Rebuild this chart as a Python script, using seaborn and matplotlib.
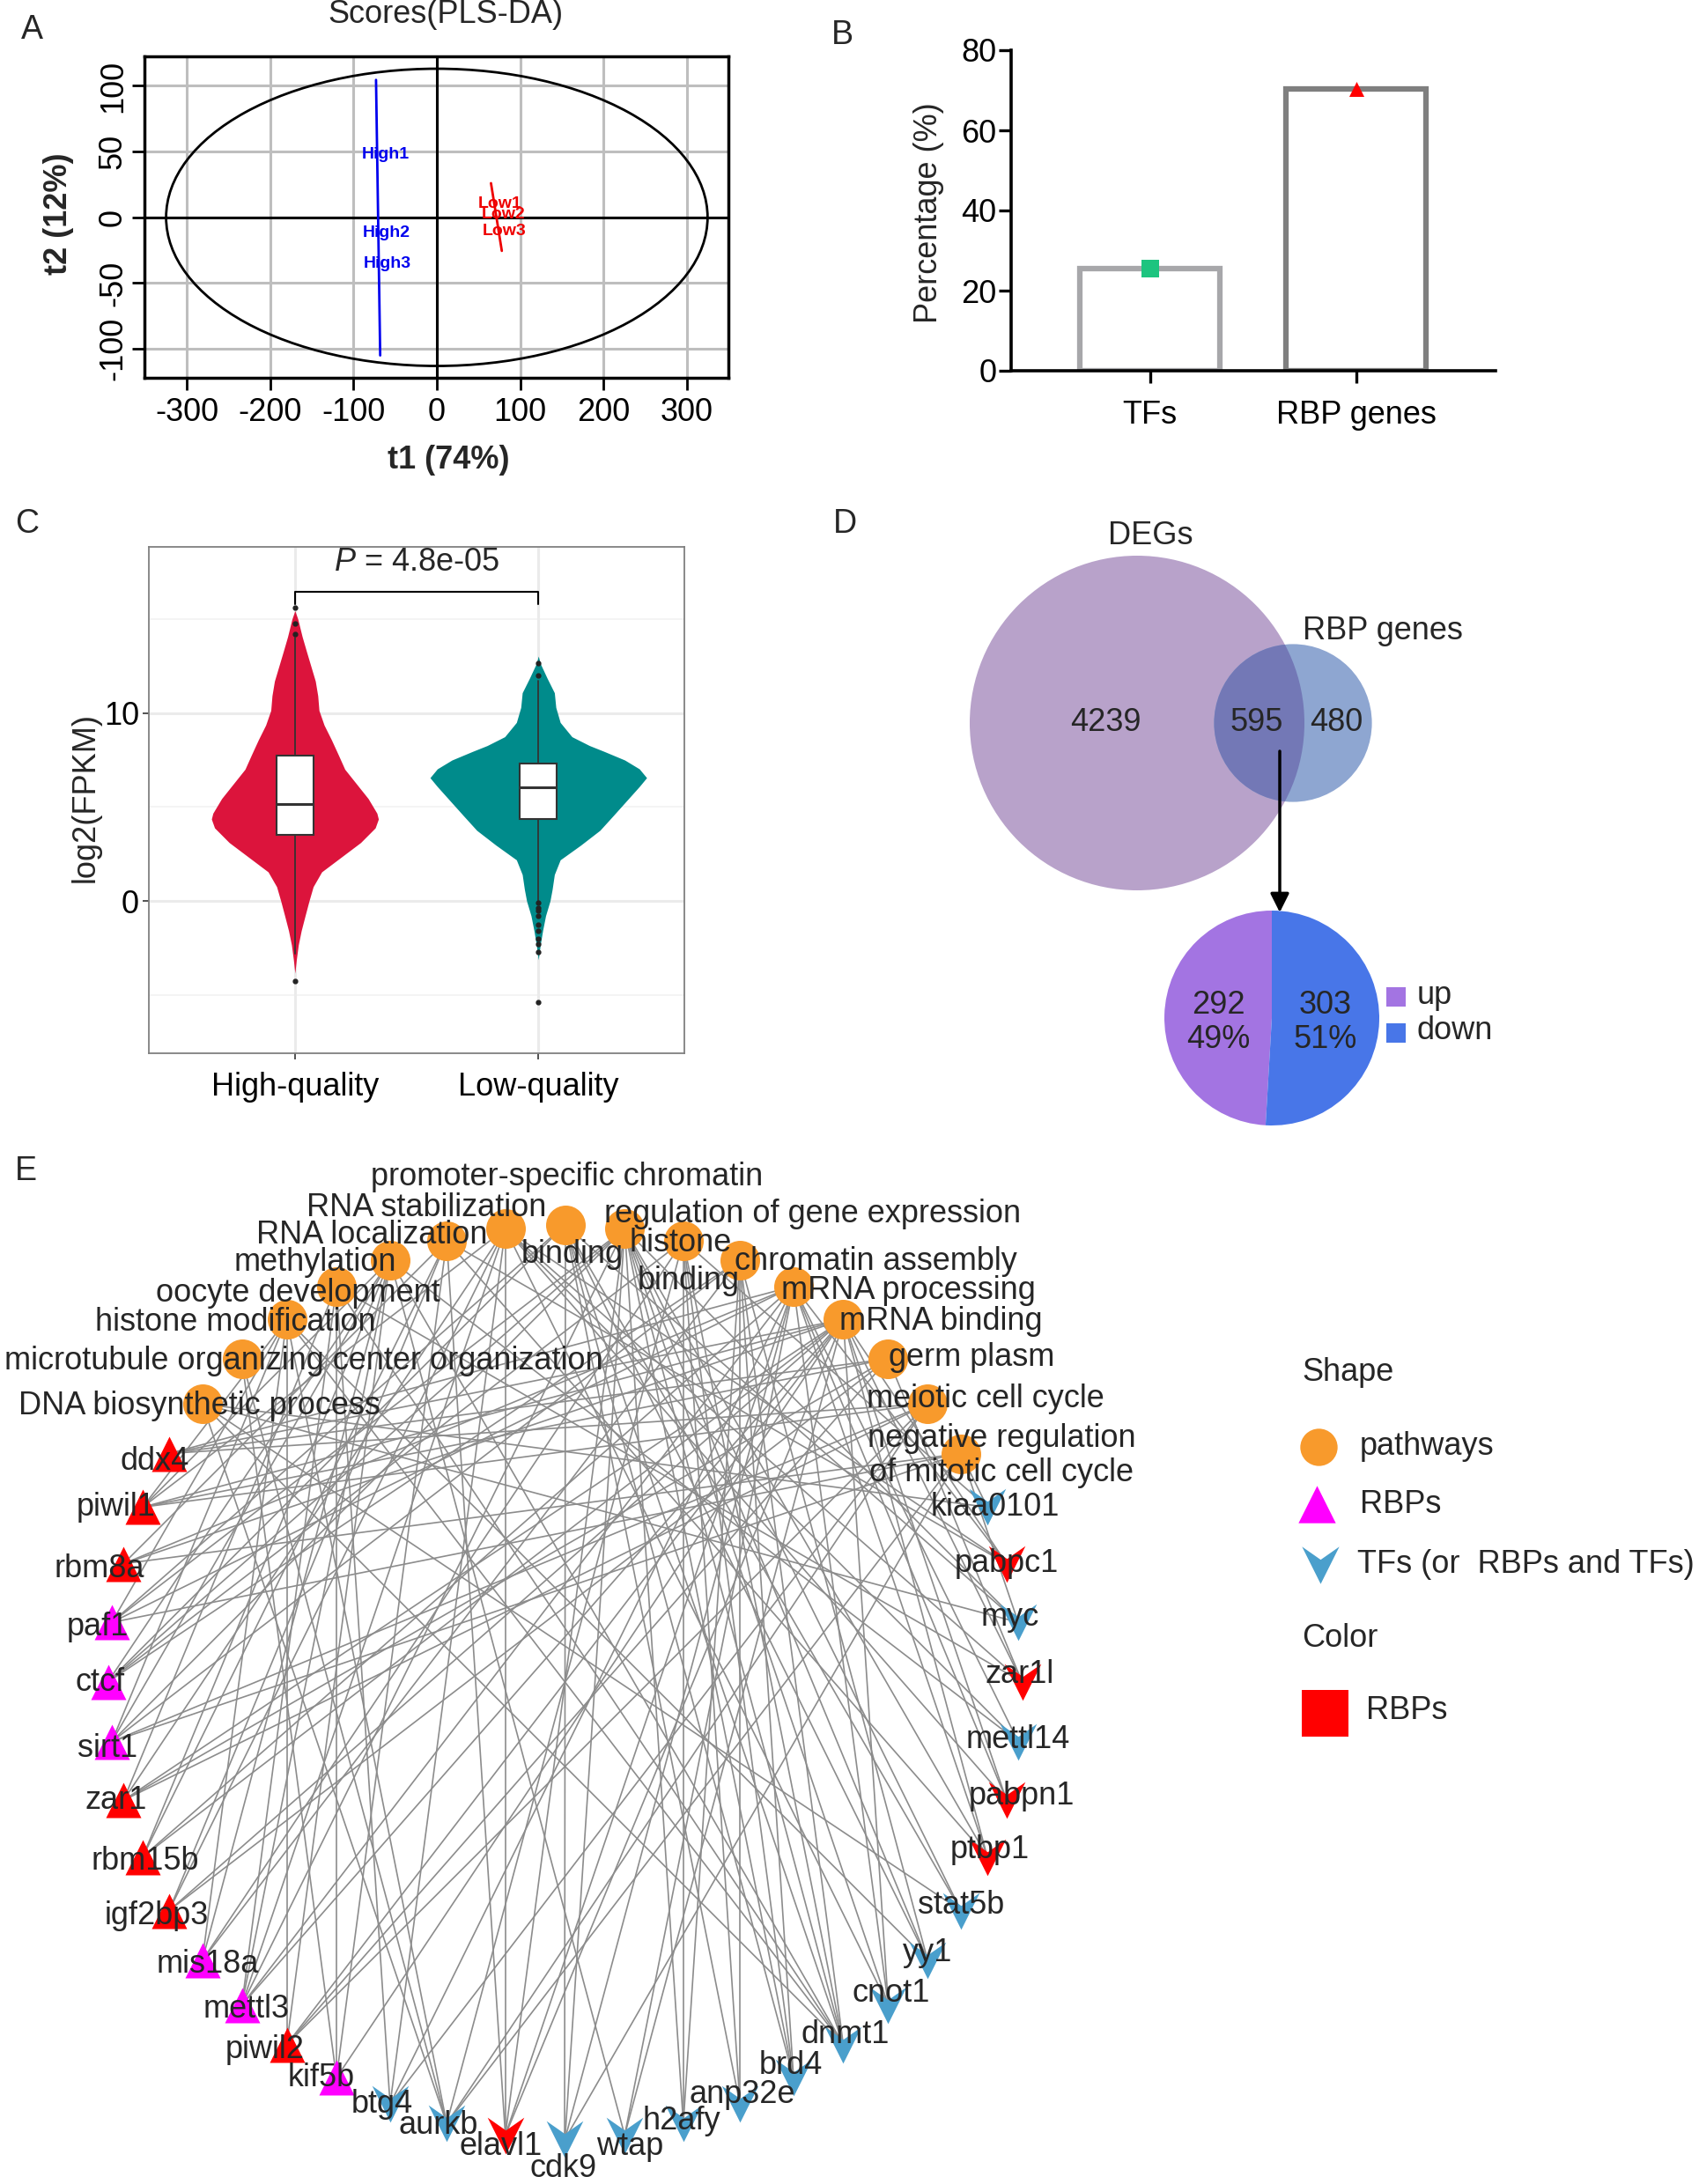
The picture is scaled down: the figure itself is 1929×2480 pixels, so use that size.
import numpy as np
import pandas as pd
import matplotlib
matplotlib.use("Agg")
import matplotlib.pyplot as plt
from matplotlib.patches import Ellipse, Circle, Rectangle
from matplotlib.path import Path
from matplotlib.collections import LineCollection
import seaborn as sns

# ======================= DATA =======================
# --- A: PLS-DA scores ---
pls_samples = ["High1", "High2", "High3", "Low1", "Low2", "Low3"]
pls_t1 = [-62, -60, -59, 76, 80, 81]
pls_t2 = [47.5, -12, -35, 10, 2, -10.5]
pls_group = ["High", "High", "High", "Low", "Low", "Low"]
class_axis_t1 = {"High": [-73, -68], "Low": [65, 78]}
class_axis_t2 = {"High": [104.5, -105], "Low": [26, -25.5]}
hotelling_t1 = 325
hotelling_t2 = 113
a_xticks = [-300, -200, -100, 0, 100, 200, 300]
a_yticks = [-100, -50, 0, 50, 100]

# --- B: percentage ---
b_categories = ["TFs", "RBP genes"]
b_percent = [25.6, 70.4]
b_yticks = [0, 20, 40, 60, 80]

# --- C: violin outline (half widths) + box stats ---
c_groups = ["High-quality", "Low-quality"]
high_y = [15.45, 15.0, 14.06, 13.26, 12.48, 11.7, 10.92, 10.14, 9.36, 8.58, 7.79, 7.01, 6.23,
          5.45, 4.67, 4.36, 3.89, 3.11, 2.33, 1.55, 0.76, 0.0, -0.78, -1.58, -2.34, -3.12, -3.84]
high_w = [0.0, 0.012, 0.030, 0.048, 0.066, 0.084, 0.094, 0.099, 0.120, 0.150, 0.178, 0.205, 0.253,
          0.301, 0.337, 0.343, 0.33, 0.27, 0.19, 0.11, 0.075, 0.058, 0.042, 0.026, 0.014, 0.006, 0.0]
low_y = [13.03, 12.64, 11.86, 11.08, 10.3, 9.5, 8.74, 8.27, 7.96, 7.5, 7.03, 6.56, 6.09, 5.31,
         4.53, 3.76, 2.97, 2.19, 1.41, 0.62, 0.0, -0.78, -1.56, -2.34, -3.12]
low_w = [0.0, 0.008, 0.036, 0.066, 0.072, 0.090, 0.138, 0.21, 0.27, 0.355, 0.415, 0.445, 0.415, 0.361,
         0.307, 0.253, 0.174, 0.090, 0.066, 0.057, 0.048, 0.030, 0.018, 0.008, 0.0]
box_med = [5.15, 6.07]
box_q1 = [3.5, 4.37]
box_q3 = [7.74, 7.32]
box_whislo = [-2.8, 0.0]
box_whishi = [14.0, 11.7]
high_fliers = [15.6, 14.75, 14.2, -4.25]
low_fliers = [12.66, 12.0, -0.1, -0.35, -0.5, -0.8, -1.25, -1.57, -2.0, -2.3, -2.7, -5.4]
c_pvalue = "4.8e-05"
c_yticks = [0, 10]

# --- D: Venn + pie ---
venn_sets = ["DEGs", "RBP genes"]
venn_only_deg = 4239
venn_both = 595
venn_only_rbp = 480
pie_labels = ["up", "down"]
pie_counts = [292, 303]

# --- E: network ---
pathways = [
    "DNA biosynthetic process",
    "microtubule organizing center organization",
    "histone modification",
    "oocyte development",
    "methylation",
    "RNA localization",
    "RNA stabilization",
    "promoter-specific chromatin binding",
    "regulation of gene expression",
    "histone binding",
    "chromatin assembly",
    "mRNA processing",
    "mRNA binding",
    "germ plasm",
    "meiotic cell cycle",
    "negative regulation of mitotic cell cycle",
]
rbp_genes = ["ddx4", "piwil1", "rbm8a", "paf1", "ctcf", "sirt1", "zar1", "rbm15b",
             "igf2bp3", "mis18a", "mettl3", "piwil2", "kif5b"]
tf_genes = ["btg4", "aurkb", "elavl1", "cdk9", "wtap", "h2afy", "anp32e", "brd4", "dnmt1",
            "cnot1", "yy1", "stat5b", "ptbp1", "pabpn1", "mettl14", "zar1l", "myc", "pabpc1", "kiaa0101"]
red_genes = ["ddx4", "piwil1", "rbm8a", "zar1", "rbm15b", "igf2bp3", "piwil2",
             "elavl1", "ptbp1", "pabpn1", "zar1l", "pabpc1"]
gene_links = {
    "ddx4": ["germ plasm", "meiotic cell cycle", "mRNA binding", "mRNA processing"],
    "piwil1": ["germ plasm", "meiotic cell cycle", "mRNA binding", "methylation", "RNA stabilization", "histone modification"],
    "rbm8a": ["mRNA processing", "mRNA binding", "RNA localization", "negative regulation of mitotic cell cycle"],
    "paf1": ["mRNA processing", "regulation of gene expression", "histone modification", "promoter-specific chromatin binding", "negative regulation of mitotic cell cycle"],
    "ctcf": ["promoter-specific chromatin binding", "regulation of gene expression", "chromatin assembly", "histone binding", "methylation"],
    "sirt1": ["histone modification", "regulation of gene expression", "chromatin assembly", "negative regulation of mitotic cell cycle", "methylation", "meiotic cell cycle"],
    "zar1": ["mRNA binding", "oocyte development", "germ plasm", "meiotic cell cycle", "RNA stabilization"],
    "rbm15b": ["mRNA processing", "methylation", "mRNA binding", "RNA localization"],
    "igf2bp3": ["mRNA binding", "RNA stabilization", "RNA localization", "germ plasm"],
    "mis18a": ["chromatin assembly", "histone binding", "methylation", "histone modification"],
    "mettl3": ["methylation", "mRNA processing", "mRNA binding", "RNA stabilization", "oocyte development", "regulation of gene expression"],
    "piwil2": ["histone modification", "germ plasm", "meiotic cell cycle", "mRNA binding", "methylation"],
    "kif5b": ["oocyte development", "RNA localization", "microtubule organizing center organization", "mRNA binding"],
    "btg4": ["oocyte development", "meiotic cell cycle", "mRNA processing", "RNA stabilization"],
    "aurkb": ["DNA biosynthetic process", "microtubule organizing center organization", "histone modification", "meiotic cell cycle", "negative regulation of mitotic cell cycle", "histone binding"],
    "elavl1": ["RNA stabilization", "mRNA binding", "mRNA processing", "regulation of gene expression", "RNA localization"],
    "cdk9": ["promoter-specific chromatin binding", "regulation of gene expression", "mRNA processing", "negative regulation of mitotic cell cycle"],
    "wtap": ["methylation", "mRNA processing", "mRNA binding"],
    "h2afy": ["chromatin assembly", "histone binding", "regulation of gene expression"],
    "anp32e": ["histone binding", "chromatin assembly", "promoter-specific chromatin binding"],
    "brd4": ["histone binding", "promoter-specific chromatin binding", "regulation of gene expression", "chromatin assembly"],
    "dnmt1": ["methylation", "DNA biosynthetic process", "regulation of gene expression", "promoter-specific chromatin binding", "histone binding", "chromatin assembly", "histone modification", "oocyte development"],
    "cnot1": ["mRNA processing", "mRNA binding", "regulation of gene expression", "RNA stabilization"],
    "yy1": ["promoter-specific chromatin binding", "regulation of gene expression", "histone modification", "chromatin assembly"],
    "stat5b": ["regulation of gene expression", "promoter-specific chromatin binding", "DNA biosynthetic process"],
    "ptbp1": ["mRNA binding", "mRNA processing", "RNA localization", "regulation of gene expression"],
    "pabpn1": ["mRNA binding", "mRNA processing", "RNA stabilization"],
    "mettl14": ["methylation", "mRNA processing", "RNA stabilization"],
    "zar1l": ["mRNA binding", "oocyte development", "germ plasm", "RNA stabilization"],
    "myc": ["DNA biosynthetic process", "regulation of gene expression", "promoter-specific chromatin binding", "negative regulation of mitotic cell cycle"],
    "pabpc1": ["mRNA binding", "RNA stabilization", "mRNA processing", "RNA localization"],
    "kiaa0101": ["DNA biosynthetic process", "negative regulation of mitotic cell cycle", "histone binding"],
}

# ======================= STYLE / LAYOUT =======================
sns.set_theme(style="white")
plt.rcParams['font.family'] = ['Liberation Sans', 'DejaVu Sans']
plt.rcParams['axes.unicode_minus'] = False
plt.rcParams['mathtext.fontset'] = 'custom'
plt.rcParams['mathtext.it'] = 'Liberation Sans:italic'
plt.rcParams['mathtext.rm'] = 'Liberation Sans'

W, H = 1929, 2480
FS = 26
fig = plt.figure(figsize=(W / 100, H / 100), dpi=100)
fig.patch.set_facecolor('white')


def px_axes(l, t, r, b):
    return fig.add_axes([l / W, 1 - b / H, (r - l) / W, (b - t) / H])


canvas = px_axes(0, 0, W, H)
canvas.set_xlim(0, W)
canvas.set_ylim(H, 0)
canvas.axis('off')
canvas.set_zorder(10)
canvas.patch.set_alpha(0)

# panel letters
for letter, (x, y) in zip("ABCDE", [(36, 34), (956, 40), (31, 595), (959, 595), (29, 1330)]):
    canvas.text(x, y, letter, fontsize=27, ha='center', va='center')

# ======================= A =======================
axA = px_axes(164, 64, 827, 429)
axA.set_xlim(-351, 350)
axA.set_ylim(-122, 122.4)
for v in a_xticks:
    axA.axvline(v, color='#BEBEBE', lw=2.2, zorder=0)
for v in a_yticks:
    axA.axhline(v, color='#BEBEBE', lw=2.2, zorder=0)
axA.axvline(0, color='black', lw=2.2, zorder=1)
axA.axhline(0, color='black', lw=2.2, zorder=1)
axA.add_patch(Ellipse((0, 0), 2 * hotelling_t1, 2 * hotelling_t2, fill=False, lw=2.0, ec='black', zorder=2))
grp_col = {"High": "#0000EE", "Low": "#EE0000"}
for g in ["High", "Low"]:
    axA.plot(class_axis_t1[g], class_axis_t2[g], color=grp_col[g], lw=2.0, zorder=3)
for name, x, y, g in zip(pls_samples, pls_t1, pls_t2, pls_group):
    axA.text(x, y, name, color=grp_col[g], fontsize=14, fontweight='bold', ha='center', va='center', zorder=4)
axA.set_xticks(a_xticks)
axA.set_xticklabels([str(v) for v in a_xticks])
axA.set_yticks(a_yticks)
axA.set_yticklabels([str(v) for v in a_yticks], rotation=90, va='center')
axA.tick_params(axis='both', direction='out', length=10, width=2, labelsize=FS, color='black',
                bottom=True, left=True, labelcolor='black')
axA.tick_params(axis='x', pad=6)
axA.tick_params(axis='y', pad=3)
for s in axA.spines.values():
    s.set_linewidth(2.5)
    s.set_color('black')
canvas.text(506, 17, "Scores(PLS-DA)", fontsize=FS, ha='center', va='center')
canvas.text(509, 522, "t1 (74%)", fontsize=FS, fontweight='bold', ha='center', va='center')
canvas.text(67, 243, "t2 (12%)", fontsize=FS, fontweight='bold', ha='center', va='center', rotation=90)

# ======================= B =======================
axB = px_axes(1148, 57, 1698, 421)
dfB = pd.DataFrame({"category": b_categories, "percent": b_percent})
sns.barplot(data=dfB, x="category", y="percent", ax=axB, width=0.68, color='white',
            edgecolor='#888888', linewidth=4.5, saturation=1, errorbar=None)
for patch, ec in zip(axB.patches, ['#A7A7AA', '#7F7F7F']):
    patch.set_edgecolor(ec)
    patch.set_facecolor('white')
axB.scatter([0], [b_percent[0]], marker='s', s=190, color='#1DC47F', zorder=5, linewidths=0)
axB.scatter([1], [b_percent[1]], marker='^', s=150, color='#FF0000', zorder=5, linewidths=0)
axB.set_xlim(-0.673, 1.677)
axB.set_ylim(0, 80)
axB.set_yticks(b_yticks)
axB.set_yticklabels([str(v) for v in b_yticks])
axB.set_xlabel('')
axB.set_ylabel('')
axB.set_xticks([0, 1])
axB.set_xticklabels(b_categories)
for side in ['top', 'right']:
    axB.spines[side].set_visible(False)
for side in ['left', 'bottom']:
    axB.spines[side].set_linewidth(2.6)
    axB.spines[side].set_color('black')
axB.tick_params(axis='both', direction='out', length=10, width=2.4, labelsize=FS, color='black',
                bottom=True, left=True, labelcolor='black')
axB.tick_params(axis='x', pad=14)
axB.tick_params(axis='y', pad=2)
canvas.text(1055, 242, "Percentage (%)", fontsize=FS, ha='center', va='center', rotation=90)

# ======================= C =======================
axC = px_axes(169, 621, 777, 1196)
axC.set_facecolor('white')
axC.set_xlim(0.4, 2.6)
axC.set_ylim(-8.1, 18.84)
for v in [-5, 5, 15]:
    axC.axhline(v, color='#F2F2F2', lw=1.2, zorder=0)
for v in c_yticks:
    axC.axhline(v, color='#EBEBEB', lw=2.2, zorder=0)
for v in [1, 2]:
    axC.axvline(v, color='#EBEBEB', lw=2.2, zorder=0)
hy, hw = np.array(high_y), np.array(high_w)
ly, lw_ = np.array(low_y), np.array(low_w)
axC.fill_betweenx(hy, 1 - hw, 1 + hw, color='#DC143C', lw=0, zorder=1)
axC.fill_betweenx(ly, 2 - lw_, 2 + lw_, color='#008B8B', lw=0, zorder=1)
stats = []
for i, fl in enumerate([high_fliers, low_fliers]):
    stats.append(dict(med=box_med[i], q1=box_q1[i], q3=box_q3[i], whislo=box_whislo[i],
                      whishi=box_whishi[i], fliers=fl, label=c_groups[i]))
axC.bxp(stats, positions=[1, 2], widths=0.15, patch_artist=True, showcaps=False, manage_ticks=False,
        boxprops=dict(facecolor='white', edgecolor='#333333', linewidth=1.5),
        whiskerprops=dict(color='#333333', linewidth=1.3),
        medianprops=dict(color='#333333', linewidth=2.2),
        flierprops=dict(marker='o', markersize=3.5, markerfacecolor='#222222', markeredgecolor='#222222'),
        zorder=2)
axC.plot([1, 1, 2, 2], [15.8, 16.46, 16.46, 15.8], color='black', lw=1.5, zorder=3)
axC.text(1.5, 18.0, r"$P$ = " + c_pvalue, fontsize=FS, ha='center', va='center')
axC.set_xticks([1, 2])
axC.set_xticklabels(c_groups)
axC.set_yticks(c_yticks)
axC.set_yticklabels([str(v) for v in c_yticks])
for s in axC.spines.values():
    s.set_linewidth(1.3)
    s.set_color('#808080')
axC.tick_params(axis='both', direction='out', length=5, width=1.2, labelsize=FS, color='#333333',
                bottom=True, left=True, labelcolor='black')
axC.tick_params(axis='x', pad=10)
axC.tick_params(axis='y', pad=3)
canvas.text(97, 905, "log2(FPKM)", fontsize=FS, ha='center', va='center', rotation=90)

# ======================= D =======================
r_big = 190.0
scale = r_big / np.sqrt(venn_only_deg + venn_both)
r_small = scale * np.sqrt(venn_both + venn_only_rbp)
big = Circle((1291, 821), r_big, color='#B8A2CA', lw=0, zorder=1)
small = Circle((1468, 821), r_small, color='#8EA6D1', lw=0, zorder=1)
canvas.add_patch(big)
canvas.add_patch(small)
ov = Circle((1468, 821), r_small, color='#7378B6', lw=0, zorder=2)
canvas.add_patch(ov)
ov.set_clip_path(big)
canvas.text(1306, 608, venn_sets[0], fontsize=FS, ha='center', va='center')
canvas.text(1570, 717, venn_sets[1], fontsize=FS, ha='center', va='center')
canvas.text(1255, 820, str(venn_only_deg), fontsize=FS, ha='center', va='center', zorder=3)
canvas.text(1427, 820, str(venn_both), fontsize=FS, ha='center', va='center', zorder=3)
canvas.text(1517, 820, str(venn_only_rbp), fontsize=FS, ha='center', va='center', zorder=3)
canvas.annotate('', xy=(1453, 1036), xytext=(1453, 853),
                arrowprops=dict(arrowstyle='-|>', lw=2.5, color='black', mutation_scale=32, shrinkA=0, shrinkB=0))

pie_cols = ['#A374E2', '#4876E8']
axP = px_axes(1444 - 152.5, 1156 - 152.5, 1444 + 152.5, 1156 + 152.5)
axP.pie(pie_counts, colors=pie_cols, startangle=90, counterclock=True, radius=1,
        wedgeprops=dict(linewidth=0))
axP.set_xlim(-1.25, 1.25)
axP.set_ylim(-1.25, 1.25)
axP.set_aspect('equal')
axP.axis('off')
tot = sum(pie_counts)
for (x, y), c in zip([(1383, 1161), (1505, 1161)], pie_counts):
    canvas.text(x, y, f"{c}\n{round(100 * c / tot)}%", fontsize=FS, ha='center', va='center', linespacing=1.15)
for (y, lab), col in zip([(1132, pie_labels[0]), (1173, pie_labels[1])], pie_cols):
    canvas.add_patch(Rectangle((1574, y - 11), 22, 22, color=col, lw=0))
    canvas.text(1609, y - 2, lab, fontsize=FS, ha='left', va='center')

# ======================= E =======================
ring = pathways[::-1] + rbp_genes + tf_genes
n = len(ring)
cxE, cyE, rE = 641.5, 1910.0, 519.0
theta = 2 * np.pi * (np.arange(n) + 4) / n
pos = {name: (cxE + rE * np.cos(t), cyE - rE * np.sin(t)) for name, t in zip(ring, theta)}

segs = [[pos[g], pos[p]] for g, plist in gene_links.items() for p in plist]
canvas.add_collection(LineCollection(segs, colors='#8C8C8C', linewidths=1.2, zorder=2))

chevron = Path([(-1, 1), (0, -1), (1, 1), (0, 0.3), (-1, 1)],
               [Path.MOVETO, Path.LINETO, Path.LINETO, Path.LINETO, Path.CLOSEPOLY])
ORANGE, MAGENTA, BLUE, RED = '#F89A2C', '#FF00FF', '#4A9FCC', '#FF0000'

px_ = [pos[p][0] for p in pathways]
py_ = [pos[p][1] for p in pathways]
canvas.scatter(px_, py_, s=1050, marker='o', color=ORANGE, linewidths=0, zorder=3)
for g in rbp_genes:
    canvas.scatter([pos[g][0]], [pos[g][1]], s=830, marker='^',
                   color=RED if g in red_genes else MAGENTA, linewidths=0, zorder=3)
for g in tf_genes:
    canvas.scatter([pos[g][0]], [pos[g][1]], s=900, marker=chevron,
                   color=RED if g in red_genes else BLUE, linewidths=0, zorder=3)

path_label_parts = {
    "DNA biosynthetic process": [("DNA biosynthetic process", -3, 2)],
    "microtubule organizing center organization": [("microtubule organizing center organization", 70, 2)],
    "histone modification": [("histone modification", -58, 3)],
    "oocyte development": [("oocyte development", -44, 8)],
    "methylation": [("methylation", -85, 3)],
    "RNA localization": [("RNA localization", -85, -6)],
    "RNA stabilization": [("RNA stabilization", -90, -24)],
    "promoter-specific chromatin binding": [("promoter-specific chromatin", 2, -55), ("binding", 8, 33)],
    "regulation of gene expression": [("regulation of gene expression", 213, -17)],
    "histone binding": [("histone", -3, 3), ("binding", 6, 46)],
    "chromatin assembly": [("chromatin assembly", 154, 2)],
    "mRNA processing": [("mRNA processing", 130, 5)],
    "mRNA binding": [("mRNA binding", 111, 2)],
    "germ plasm": [("germ plasm", 95, -2)],
    "meiotic cell cycle": [("meiotic cell cycle", 66, -6)],
    "negative regulation of mitotic cell cycle": [("negative regulation", 46, -17), ("of mitotic cell cycle", 46, 22)],
}
for p in pathways:
    for txt, dx, dy in path_label_parts[p]:
        canvas.text(pos[p][0] + dx, pos[p][1] + dy, txt, fontsize=FS, ha='center', va='center', zorder=5)

gene_label_offset = {
    "ddx4": (-16, 9), "piwil1": (-30, 0), "rbm8a": (-27, 6), "paf1": (-16, 5), "ctcf": (-9, 0),
    "sirt1": (-5, 8), "zar1": (-8, 0), "rbm15b": (3, 5), "igf2bp3": (-14, 6), "mis18a": (6, 5),
    "mettl3": (5, 5), "piwil2": (-25, 6), "kif5b": (-17, 0), "btg4": (-9, 0), "aurkb": (-9, 2),
    "elavl1": (-5, 13), "cdk9": (-2, 33), "wtap": (6, 13), "h2afy": (-2, -3), "anp32e": (3, -11),
    "brd4": (-3, -14), "dnmt1": (2, -11), "cnot1": (3, -13), "yy1": (0, -8), "stat5b": (0, -6),
    "ptbp1": (3, -8), "pabpn1": (17, -5), "mettl14": (0, -2), "zar1l": (-3, -9), "myc": (-9, -6),
    "pabpc1": (0, 0), "kiaa0101": (9, 0),
}
for g in rbp_genes + tf_genes:
    dx, dy = gene_label_offset[g]
    canvas.text(pos[g][0] + dx, pos[g][1] + dy, g, fontsize=FS, ha='center', va='center', zorder=5)

# legend of E
canvas.text(1478, 1558, "Shape", fontsize=FS, ha='left', va='center')
canvas.scatter([1497], [1643], s=930, marker='o', color=ORANGE, linewidths=0, zorder=3)
canvas.text(1544, 1643, "pathways", fontsize=FS, ha='left', va='center')
canvas.scatter([1495], [1708], s=930, marker='^', color=MAGENTA, linewidths=0, zorder=3)
canvas.text(1544, 1709, "RBPs", fontsize=FS, ha='left', va='center')
canvas.scatter([1499], [1777], s=930, marker=chevron, color=BLUE, linewidths=0, zorder=3)
canvas.text(1541, 1777, "TFs (or  RBPs and TFs)", fontsize=FS, ha='left', va='center')
canvas.text(1478, 1860, "Color", fontsize=FS, ha='left', va='center')
canvas.add_patch(Rectangle((1478, 1919), 53, 53, color=RED, lw=0))
canvas.text(1551, 1943, "RBPs", fontsize=FS, ha='left', va='center')

fig.savefig("out.png", dpi=100, facecolor='white')
